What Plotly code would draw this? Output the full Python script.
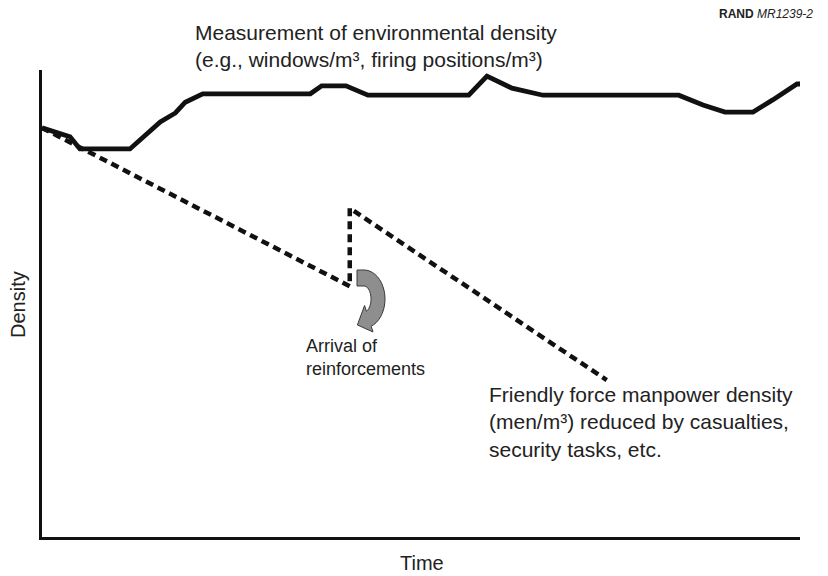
import math
import plotly.graph_objects as go

# ---- data (abstract units: time 0..100, density 0..100) ----
env_time = [0, 3.7, 5.0, 11.6, 15.6, 17.6, 18.9, 21.2, 35.4, 36.9, 40.1, 43.0,
            56.3, 58.7, 62.0, 66.1, 84.0, 87.2, 90.1, 93.8, 96.4, 99.6, 100]
env_density = [87.6, 85.7, 83.1, 83.1, 88.9, 90.8, 93.1, 94.9, 94.9, 96.6, 96.6, 94.6,
               94.6, 98.7, 96.1, 94.6, 94.6, 92.5, 91.0, 91.0, 93.6, 97.0, 97.0]

friendly_time = [0, 40.6, 40.6, 74.5]
friendly_density = [87.6, 53.7, 70.4, 33.6]

# ---- layout geometry (page body adds an 8px offset) ----
OFF = 8
PX0, PX1 = 42, 800     # plot area, screen px
PY0, PY1 = 70, 537
W, H = 828 - OFF, 576 - OFF
L = PX0 - OFF
T = PY0 - OFF
R = W - L - (PX1 - PX0)
B = H - T - (PY1 - PY0)
XR = (0, 100)
YR = (0, 100)


def px_to_x(px):
    return XR[0] + (px - PX0) / (PX1 - PX0) * (XR[1] - XR[0])


def py_to_y(py):
    return YR[0] + (PY1 - py) / (PY1 - PY0) * (YR[1] - YR[0])


def px_to_paper(px):
    return (px - PX0) / (PX1 - PX0)


def py_to_paper(py):
    return (PY1 - py) / (PY1 - PY0)


fig = go.Figure()
fig.add_trace(go.Scatter(x=env_time, y=env_density, mode="lines",
                         line=dict(color="#111111", width=4.8),
                         cliponaxis=False, hoverinfo="skip"))
fig.add_trace(go.Scatter(x=friendly_time, y=friendly_density, mode="lines",
                         line=dict(color="#111111", width=4.5, dash="8px,5px"),
                         cliponaxis=False, hoverinfo="skip"))

# curved arrow (decoration), elliptical band in screen px
cx, cy = 364, 299
rxo, ryo = 21, 29
rxi, ryi = 7, 13
a0, a1 = -90, 70
n = 20
outer, inner = [], []
for i in range(n + 1):
    a = math.radians(a0 + (a1 - a0) * i / n)
    outer.append((cx + rxo * math.cos(a), cy + ryo * math.sin(a)))
    inner.append((cx + rxi * math.cos(a), cy + ryi * math.sin(a)))
ox, oy = outer[-1]
ix, iy = inner[-1]
dx, dy = ox - ix, oy - iy
dl = math.hypot(dx, dy)
ux, uy = dx / dl, dy / dl
hb_out = (ox + 6 * ux, oy + 6 * uy)
hb_in = (ix - 6 * ux, iy - 6 * uy)
mx, my = (hb_out[0] + hb_in[0]) / 2, (hb_out[1] + hb_in[1]) / 2
ae = math.radians(a1)
tx, ty = -14 * math.sin(ae), 21 * math.cos(ae)
tl = math.hypot(tx, ty)
tip = (mx + 13 * tx / tl, my + 13 * ty / tl)
path_pts = [(357, outer[0][1])] + outer + [hb_out, tip, hb_in] + inner[::-1] + [(357, inner[0][1])]
path = "M " + " L ".join(f"{px_to_x(p[0]):.3f},{py_to_y(p[1]):.3f}" for p in path_pts) + " Z"
fig.add_shape(type="path", path=path, xref="x", yref="y",
              fillcolor="#8e8e8e", line=dict(color="#3a3a3a", width=1))

font = "Liberation Sans, Arial, Helvetica, sans-serif"
txt = "#222222"
ann = [
    dict(sx=193, sy=46,
         text="Measurement of environmental density<br>(e.g., windows/m³, firing positions/m³)",
         xanchor="left", yanchor="middle", align="left", size=21),
    dict(sx=304, sy=357,
         text="Arrival of<br>reinforcements",
         xanchor="left", yanchor="middle", align="left", size=18),
    dict(sx=487, sy=422,
         text="Friendly force manpower density<br>(men/m³) reduced by casualties,<br>security tasks, etc.",
         xanchor="left", yanchor="middle", align="left", size=21),
    dict(sx=18, sy=305, text="Density", textangle=-90,
         xanchor="center", yanchor="middle", size=20),
    dict(sx=422, sy=563, text="Time",
         xanchor="center", yanchor="middle", size=20),
    dict(sx=815, sy=14, text="<b>RAND</b> <i>MR1239-2</i>",
         xanchor="right", yanchor="middle", size=12),
]
for a in ann:
    size = a.pop("size")
    sx = a.pop("sx")
    sy = a.pop("sy")
    fig.add_annotation(xref="paper", yref="paper", x=px_to_paper(sx), y=py_to_paper(sy),
                       showarrow=False,
                       font=dict(family=font, size=size, color=txt), **a)

fig.update_layout(
    width=W, height=H,
    margin=dict(l=L, r=R, t=T, b=B),
    paper_bgcolor="white", plot_bgcolor="white",
    showlegend=False,
    xaxis=dict(range=list(XR), showgrid=False, zeroline=False, showticklabels=False,
               ticks="", showline=True, linecolor="#111111", linewidth=3),
    yaxis=dict(range=list(YR), showgrid=False, zeroline=False, showticklabels=False,
               ticks="", showline=True, linecolor="#111111", linewidth=3),
)

fig.write_html("out.html")
